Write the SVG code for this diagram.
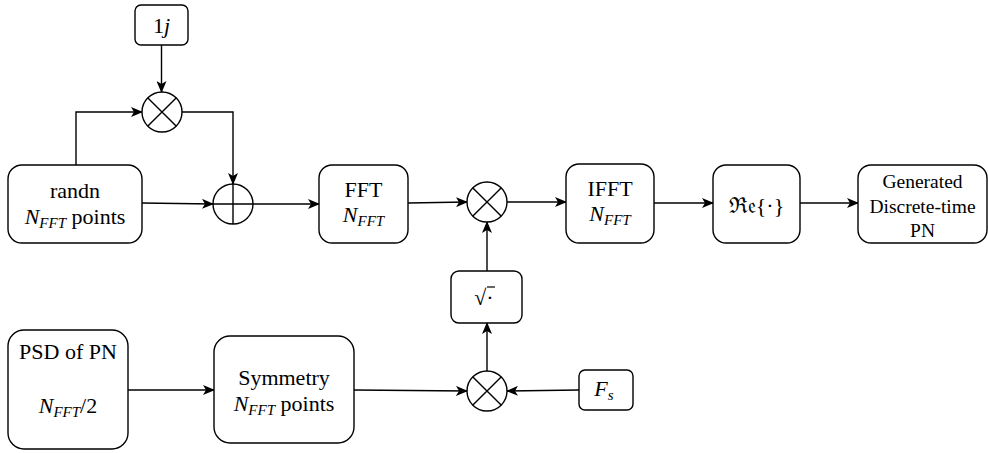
<svg xmlns="http://www.w3.org/2000/svg" width="988" height="453" viewBox="0 0 988 453">
  <defs>
    <marker id="arrow" viewBox="0 0 12 10" refX="11" refY="5" markerWidth="12" markerHeight="10" markerUnits="userSpaceOnUse" orient="auto">
      <path d="M0,0 L12,5 L0,10 L3,5 Z" fill="#000"/>
    </marker>
    <style>
      .box { fill: #fff; stroke: #000; stroke-width: 1.4; }
      .op { fill: #fff; stroke: #000; stroke-width: 1.4; }
      .mark { fill: none; stroke: #000; stroke-width: 1.4; }
      .edge { fill: none; stroke: #000; stroke-width: 1.4; marker-end: url(#arrow); }
      .lbl { font-family: 'Liberation Serif', serif; font-size: 22px; text-anchor: middle; fill: #000; }
      .small { font-family: 'Liberation Serif', serif; font-size: 19.5px; text-anchor: middle; fill: #000; }
      .it { font-style: italic; }
      .sub { font-style: italic; font-size: 15px; }
    </style>
  </defs>

  <!-- connectors -->
  <g id="connectors">
    <path class="edge" d="M161.5,45 L161.5,92"/>
    <path class="edge" d="M76,165 L76,112 L142,112"/>
    <path class="edge" d="M182,112 L233,112 L233,184"/>
    <path class="edge" d="M142,203 L213,204"/>
    <path class="edge" d="M253,204 L319,204"/>
    <path class="edge" d="M408,203 L467,202"/>
    <path class="edge" d="M507,202 L566,202"/>
    <path class="edge" d="M654,203 L713,203"/>
    <path class="edge" d="M800,203 L858,203"/>
    <path class="edge" d="M487,271 L487,222"/>
    <path class="edge" d="M487,371 L487,323"/>
    <path class="edge" d="M128,390 L214,390"/>
    <path class="edge" d="M354,390 L467,391"/>
    <path class="edge" d="M579,390 L507,391"/>
  </g>

  <!-- constant 1j -->
  <g id="node-1j">
    <rect class="box" x="135" y="5" width="53" height="40" rx="6"/>
    <text class="lbl" x="161.5" y="33">1<tspan class="it">j</tspan></text>
  </g>

  <!-- multiplier by 1j -->
  <g id="node-mul-j">
    <circle class="op" cx="162" cy="112" r="20"/>
    <path class="mark" d="M147.9,97.9 L176.1,126.1 M176.1,97.9 L147.9,126.1"/>
  </g>

  <!-- randn source -->
  <g id="node-randn">
    <rect class="box" x="8" y="165" width="134" height="78" rx="14"/>
    <text class="lbl" x="75" y="198">randn</text>
    <text class="lbl" x="75" y="224"><tspan class="it">N</tspan><tspan class="sub" dy="4">FFT</tspan><tspan dy="-4"> points</tspan></text>
  </g>

  <!-- adder -->
  <g id="node-add">
    <circle class="op" cx="233" cy="204" r="20"/>
    <path class="mark" d="M213,204 L253,204 M233,184 L233,224"/>
  </g>

  <!-- FFT -->
  <g id="node-fft">
    <rect class="box" x="319" y="165" width="89" height="78" rx="13"/>
    <text class="lbl" x="363.5" y="197">FFT</text>
    <text class="lbl" x="363.5" y="222"><tspan class="it">N</tspan><tspan class="sub" dy="4">FFT</tspan></text>
  </g>

  <!-- spectral shaping multiplier -->
  <g id="node-mul-shape">
    <circle class="op" cx="487" cy="202" r="20"/>
    <path class="mark" d="M472.9,187.9 L501.1,216.1 M501.1,187.9 L472.9,216.1"/>
  </g>

  <!-- IFFT -->
  <g id="node-ifft">
    <rect class="box" x="566" y="164" width="88" height="79" rx="13"/>
    <text class="lbl" x="610" y="196">IFFT</text>
    <text class="lbl" x="610" y="221"><tspan class="it">N</tspan><tspan class="sub" dy="4">FFT</tspan></text>
  </g>

  <!-- real part -->
  <g id="node-real">
    <rect class="box" x="713" y="165" width="87" height="78" rx="13"/>
    <text class="lbl" x="756.5" y="213">ℜ𝔢{·}</text>
  </g>

  <!-- output -->
  <g id="node-output">
    <rect class="box" x="858" y="165" width="129" height="78" rx="13"/>
    <text class="small" x="922.5" y="188">Generated</text>
    <text class="small" x="922.5" y="213">Discrete-time</text>
    <text class="small" x="922.5" y="237">PN</text>
  </g>

  <!-- square root -->
  <g id="node-sqrt">
    <rect class="box" x="451" y="271" width="71" height="52" rx="8"/>
    <text class="lbl" x="484" y="305">√·</text>
    <path d="M487,287 L495,287" stroke="#000" stroke-width="1.2"/>
  </g>

  <!-- PSD input -->
  <g id="node-psd">
    <rect class="box" x="8" y="330" width="120" height="119" rx="16"/>
    <text class="lbl" x="68" y="359">PSD of PN</text>
    <text class="lbl" x="68" y="413"><tspan class="it">N</tspan><tspan class="sub" dy="4">FFT</tspan><tspan dy="-4">/2</tspan></text>
  </g>

  <!-- symmetry -->
  <g id="node-symmetry">
    <rect class="box" x="214" y="336" width="140" height="107" rx="16"/>
    <text class="lbl" x="284" y="385">Symmetry</text>
    <text class="lbl" x="284" y="411"><tspan class="it">N</tspan><tspan class="sub" dy="4">FFT</tspan><tspan dy="-4"> points</tspan></text>
  </g>

  <!-- sampling-rate multiplier -->
  <g id="node-mul-fs">
    <circle class="op" cx="487" cy="391" r="20"/>
    <path class="mark" d="M472.9,376.9 L501.1,405.1 M501.1,376.9 L472.9,405.1"/>
  </g>

  <!-- sampling rate -->
  <g id="node-fs">
    <rect class="box" x="579" y="370" width="54" height="40" rx="6"/>
    <text class="lbl" x="604" y="396"><tspan class="it">F</tspan><tspan class="sub" dy="4">s</tspan></text>
  </g>
</svg>
